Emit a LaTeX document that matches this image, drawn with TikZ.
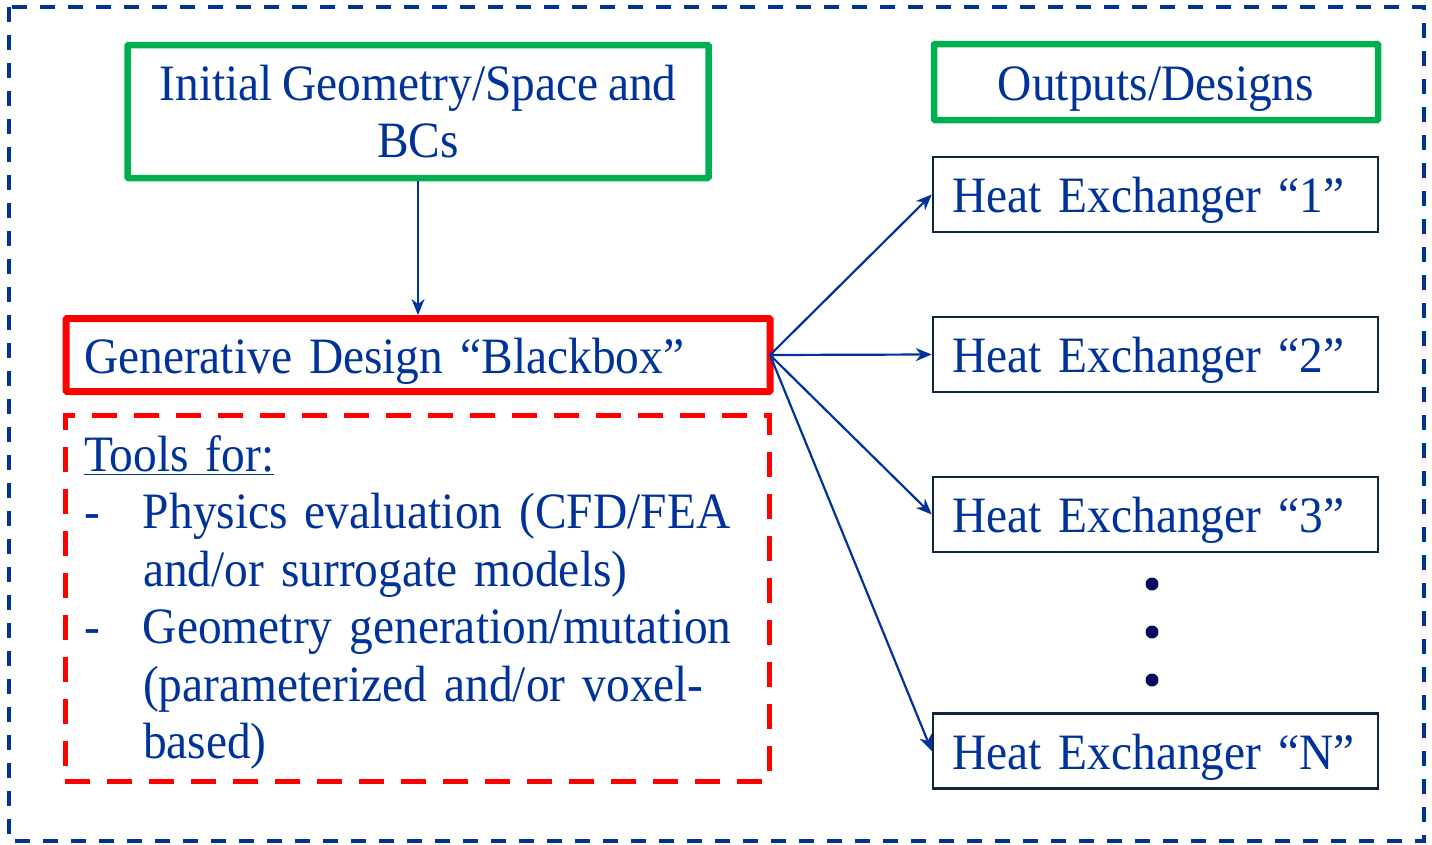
\documentclass[tikz,border=0pt]{standalone}
\usepackage{fontspec}
\setmainfont{Liberation Serif}[FakeStretch=0.93,WordSpace=0.8]
\usetikzlibrary{arrows.meta}
\definecolor{txtblue}{RGB}{0,51,153}
\definecolor{boxgreen}{RGB}{0,176,80}
\definecolor{hxline}{RGB}{16,37,63}
\definecolor{dotnavy}{RGB}{10,10,90}
\newcommand\hxfont{\fontsize{51}{57.4}\selectfont}

\begin{document}
\begin{tikzpicture}[x=1pt,y=-1pt,
    every node/.style={font=\hxfont,text=txtblue},
    greenbox/.style={draw=boxgreen,line width=6.5pt,rounded corners=1pt,align=center},
    redbox/.style={draw=red,line width=7pt,rounded corners=1pt},
    oneline/.style={text height=36pt,text depth=0pt},
    hxbox/.style={draw=hxline,line width=2.5pt,minimum width=445pt,minimum height=75pt,text width=407pt,inner xsep=19pt,align=left,oneline},
    arr/.style={draw=txtblue,line width=2.2pt,-{Stealth[length=16pt,width=13pt]}}]
  \useasboundingbox (0,0) rectangle (1432,844);
  \draw[txtblue,line width=3.5pt,dash pattern=on 15pt off 13pt] (9,7) rectangle (1424,841);
  % left side
  \node[greenbox,minimum width=581pt,minimum height=133pt] (init) at (418,111.5) {Initial Geometry/Space and\\BCs};
  \node[redbox,oneline,minimum width=704pt,minimum height=73pt,text width=668pt,inner xsep=18pt,align=left] (gdb) at (418,355) {Generative Design “Blackbox”};
  \node[draw=red,line width=5pt,dash pattern=on 25pt off 17pt,minimum width=704pt,minimum height=366pt,text width=666pt,inner xsep=19pt,align=left] (tools) at (417,598)
    {\rule{0pt}{45pt}\underline{Tools for:}\\
     \makebox[59pt][l]{-}Physics evaluation (CFD/FEA\\
     \hspace*{59pt}and/or surrogate models)\\
     \makebox[59pt][l]{-}Geometry generation/mutation\\
     \hspace*{59pt}(parameterized and/or voxel-\\
     \hspace*{59pt}based)};
  % right side
  \node[greenbox,oneline,minimum width=444pt,minimum height=76pt] (outs) at (1156,82) {Outputs/Designs};
  \foreach \n/\y in {1/194.5,2/354.5,3/514.5,N/751}
    \node[hxbox] (hx\n) at (1155.5,\y) {Heat Exchanger “\n”};
  \foreach \y in {584,632,680} \fill[dotnavy] (1152,\y) circle (6.5);
  \draw[arr] (init) -- (gdb);
  \foreach \n in {1,2,3,N} \draw[arr] ([xshift=-3.5pt]gdb.east) -- (hx\n.west);
\end{tikzpicture}
\end{document}
